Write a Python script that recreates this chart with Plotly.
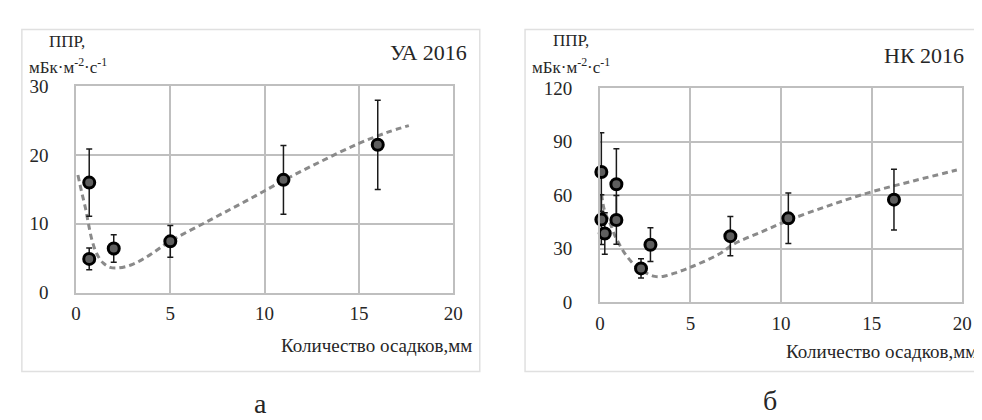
import plotly.graph_objects as go

# ---- data ----
ua_x = [0.7, 0.7, 2.0, 5.0, 11.0, 16.0]
ua_y = [16.0, 4.9, 6.4, 7.45, 16.4, 21.5]
ua_err = [4.9, 1.6, 2.0, 2.3, 5.0, 6.5]

ua_trend_x = [0.1, 0.3, 0.5, 0.66, 0.84, 1.1, 1.45, 1.8, 2.23, 3.0, 3.9, 4.95, 7.0, 9.0, 11.0, 13.0, 15.0, 16.5, 17.65]
ua_trend_y = [17.1, 14.6, 12.3, 10.0, 7.7, 5.65, 4.27, 3.67, 3.58, 4.1, 5.45, 7.4, 10.4, 13.3, 16.3, 19.1, 21.7, 23.3, 24.3]

nk_x = [0.08, 0.08, 0.27, 0.91, 0.91, 2.27, 2.79, 7.2, 10.4, 16.23]
nk_y = [73.0, 46.3, 38.5, 66.1, 46.1, 18.9, 32.2, 37.0, 47.0, 57.5]
nk_err = [22.0, 14.0, 11.6, 20.0, 13.7, 5.4, 9.5, 11.0, 14.2, 17.0]

nk_trend_x = [0.09, 0.22, 0.4, 0.58, 0.85, 1.13, 1.4, 1.76, 2.12, 2.57, 3.03, 3.48, 4.12, 4.84, 5.7, 6.66, 7.4, 8.9, 10.4, 12.6, 14.9, 17.3, 19.7]
nk_trend_y = [60.7, 52.7, 47.4, 43.8, 36.7, 31.4, 26.9, 22.4, 18.9, 16.2, 14.4, 14.4, 16.2, 18.9, 22.6, 27.4, 32.6, 39.3, 45.9, 54.0, 61.6, 68.0, 74.1]

x_ticks = [0, 5, 10, 15, 20]
ua_y_ticks = [0, 10, 20, 30]
nk_y_ticks = [0, 30, 60, 90, 120]

W, H = 982, 420
def px(x):
    return x / W
def py(y):
    return 1 - y / H

FONT = "Liberation Serif"
GRID = "#bfbfbf"
TXT = "#262626"

fig = go.Figure()

def add_panel(xs, ys, errs, tx, ty, xa, ya):
    fig.add_trace(go.Scatter(
        x=tx, y=ty, mode="lines", line=dict(color="#8a8a8a", width=3, dash="6px,4px", shape="spline"),
        xaxis=xa, yaxis=ya, hoverinfo="skip", showlegend=False))
    fig.add_trace(go.Scatter(
        x=xs, y=ys, mode="markers",
        marker=dict(size=11, color="#5e5e5e", line=dict(color="#000000", width=3)),
        error_y=dict(type="data", array=errs, visible=True, color="#1a1a1a", thickness=1.5, width=3),
        xaxis=xa, yaxis=ya, cliponaxis=False, showlegend=False))

add_panel(ua_x, ua_y, ua_err, ua_trend_x, ua_trend_y, "x", "y")
add_panel(nk_x, nk_y, nk_err, nk_trend_x, nk_trend_y, "x2", "y2")

axis_common = dict(showgrid=True, gridcolor=GRID, gridwidth=1.5, showline=True, linecolor=GRID,
                   linewidth=1.5, mirror=True, zeroline=False, ticks="",
                   tickfont=dict(family=FONT, size=19, color=TXT))

fig.update_layout(
    width=W, height=H, margin=dict(l=0, r=0, t=0, b=0),
    paper_bgcolor="white", plot_bgcolor="white",
    font=dict(family=FONT, color=TXT),
    xaxis=dict(domain=[px(64), px(447)], range=[0, 20], tickvals=x_ticks, anchor="y",
               ticklabelstandoff=3, **axis_common),
    yaxis=dict(domain=[py(289), py(72)], range=[0, 30], tickvals=ua_y_ticks, anchor="x",
               ticklabelstandoff=22, **axis_common),
    xaxis2=dict(domain=[px(596), px(964)], range=[0, 20], tickvals=x_ticks, anchor="y2",
                ticklabelstandoff=3, **axis_common),
    yaxis2=dict(domain=[py(299), py(74)], range=[0, 120], tickvals=nk_y_ticks, anchor="x2",
                ticklabelstandoff=22, **axis_common),
)

# chart-area frames
fig.add_shape(type="rect", xref="paper", yref="paper", x0=px(9), x1=px(474), y0=py(372), y1=py(12),
              line=dict(color="#e0e0e0", width=1.5), fillcolor="rgba(0,0,0,0)", layer="below")
fig.add_shape(type="rect", xref="paper", yref="paper", x0=px(520), x1=px(995), y0=py(372), y1=py(12),
              line=dict(color="#e0e0e0", width=1.5), fillcolor="rgba(0,0,0,0)", layer="below")

def ann(text, x, y, size, xanchor="center"):
    fig.add_annotation(text=text, x=px(x), y=py(y), xref="paper", yref="paper", showarrow=False,
                       xanchor=xanchor, yanchor="middle", font=dict(family=FONT, size=size, color=TXT))

# left panel texts
ann("ППР,", 55, 25, 17)
ann("мБк·м<sup>-2</sup>·с<sup>-1</sup>", 56, 51, 17)
ann("УА 2016", 463, 36, 22, xanchor="right")
ann("Количество осадков,мм", 468, 345, 19, xanchor="right")
ann("а", 251, 406, 28)

# right panel texts
ann("ППР,", 567, 24, 17)
ann("мБк·м<sup>-2</sup>·с<sup>-1</sup>", 567, 51, 17)
ann("НК 2016", 968, 39, 22, xanchor="right")
ann("Количество осадков,мм", 981, 351, 19, xanchor="right")
ann("б", 769, 403, 28)

fig.write_html("out.html")
